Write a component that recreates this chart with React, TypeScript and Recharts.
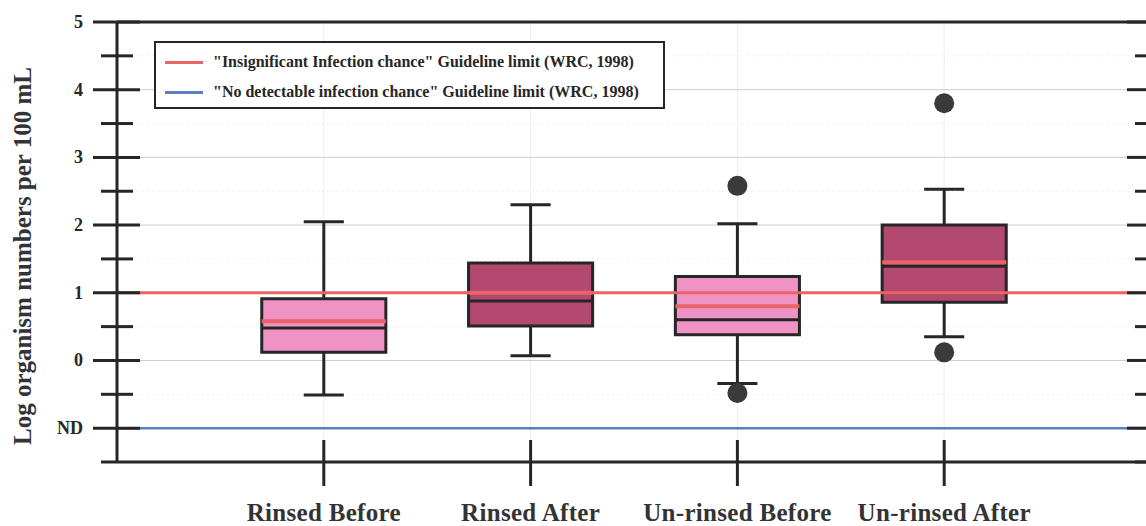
import {
  ComposedChart,
  XAxis,
  YAxis,
  CartesianGrid,
  ReferenceArea,
  ReferenceLine,
  Scatter,
  Legend,
} from "recharts";

const categories = ["Rinsed Before", "Rinsed After", "Un-rinsed Before", "Un-rinsed After"];
const positions = [1, 2, 3, 4];
const whiskerLow = [-0.51, 0.07, -0.34, 0.35];
const q1 = [0.12, 0.51, 0.38, 0.86];
const median = [0.48, 0.88, 0.6, 1.39];
const mean = [0.58, 1.0, 0.8, 1.45];
const q3 = [0.91, 1.44, 1.24, 2.0];
const whiskerHigh = [2.05, 2.3, 2.02, 2.53];
const outlierPos = [3, 3, 4, 4];
const outlierValues = [2.58, -0.48, 3.8, 0.12];

const insignificantLimit = 1;
const notDetectableLimit = -1;

const yTicks = [-1.5, -1, -0.5, 0, 0.5, 1, 1.5, 2, 2.5, 3, 3.5, 4, 4.5, 5];
const yTickLabels: Record<string, string> = { "-1": "ND", "0": "0", "1": "1", "2": "2", "3": "3", "4": "4", "5": "5" };
const legendItems = [
  { label: "\"Insignificant Infection chance\" Guideline limit (WRC, 1998)", color: "#E86466" },
  { label: "\"No detectable infection chance\" Guideline limit (WRC, 1998)", color: "#5B7EC2" },
];

const boxFills = ["#EF93C4", "#B4496F", "#EF93C4", "#B4496F"];
const FONT = "'Liberation Serif', 'Times New Roman', serif";
const INK = "#262626";
const BOX_HALF = 0.3;
const CAP_HALF = 0.097;

const outliers = outlierPos.map((x, i) => ({ x, y: outlierValues[i] }));

const LeftTick = (props: any) => {
  const { x, y, payload } = props;
  const v = payload.value;
  const major = Number.isInteger(v);
  const label = yTickLabels[String(v)];
  return (
    <g>
      <line x1={major ? x - 24 : x - 16} x2={v === -1.5 ? x : major ? x + 23 : x + 16} y1={y} y2={y} stroke={INK} strokeWidth={3} />
      {label && (
        <text x={x - 34} y={y} dy={6} textAnchor="end" fontFamily={FONT} fontWeight="bold" fontSize={18} fill={INK}>
          {label}
        </text>
      )}
    </g>
  );
};

const RightTick = (props: any) => {
  const { x, y, payload } = props;
  const major = Number.isInteger(payload.value);
  return <line x1={major ? x - 24 : x - 16} x2={x} y1={y} y2={y} stroke={INK} strokeWidth={3} />;
};

const BottomTick = (props: any) => {
  const { x, y, payload } = props;
  const label = categories[positions.indexOf(payload.value)];
  return (
    <g>
      <line x1={x} x2={x} y1={y - 22} y2={y + 24} stroke={INK} strokeWidth={3} />
      <text x={x} y={y + 59} textAnchor="middle" fontFamily={FONT} fontWeight="bold" fontSize={25} fill="#333" letterSpacing={0.3}>
        {label}
      </text>
    </g>
  );
};

const TopTick = (props: any) => {
  const { x, y } = props;
  return <line x1={x} x2={x} y1={y} y2={y + 21} stroke={INK} strokeWidth={3} />;
};

const LegendBox = () => (
  <div
    style={{
      border: `2px solid ${INK}`,
      background: "#fff",
      width: 507,
      height: 62,
      boxSizing: "content-box",
      fontFamily: FONT,
      fontWeight: "bold",
      fontSize: 16,
      color: INK,
      paddingTop: 2,
    }}
  >
    {legendItems.map((it) => (
      <div key={it.label} style={{ display: "flex", alignItems: "center", height: 26, marginTop: 4 }}>
        <div style={{ width: 38, height: 3, background: it.color, marginLeft: 9, marginRight: 10 }} />
        <span style={{ whiteSpace: "nowrap" }}>{it.label}</span>
      </div>
    ))}
  </div>
);

const OutlierDot = (props: any) => {
  const { cx, cy } = props;
  return <circle cx={cx} cy={cy} r={10} fill="#3a3a3a" />;
};

export default function App() {
  return (
    <div style={{ position: "absolute", left: 0, top: 0, width: 1146, height: 526, overflow: "hidden", background: "#fff" }}>
      <ComposedChart width={1160} height={526} margin={{ top: 0, right: 0, bottom: 0, left: 0 }}>
        <CartesianGrid horizontalValues={[-0.5, 0.5, 1.5, 2.5, 3.5, 4.5]} vertical={false} stroke="#efefef" strokeDasharray="2 3" />
        <CartesianGrid horizontal={false} verticalValues={positions} stroke="#eeeeee" />
        <CartesianGrid horizontalValues={[0, 2, 3, 4]} vertical={false} stroke="#cccccc" />
        <XAxis
          type="number"
          dataKey="x"
          domain={[0, 5]}
          ticks={positions}
          interval={0}
          height={64}
          tickSize={0}
          tickMargin={0}
          tick={<BottomTick />}
          axisLine={{ stroke: INK, strokeWidth: 3 }}
          tickLine={false}
          allowDataOverflow
        />
        <XAxis
          xAxisId="top"
          orientation="top"
          type="number"
          domain={[0, 5]}
          ticks={positions}
          interval={0}
          height={22}
          tickSize={0}
          tickMargin={0}
          tick={<TopTick />}
          axisLine={{ stroke: INK, strokeWidth: 3 }}
          tickLine={false}
          allowDataOverflow
        />
        <YAxis
          type="number"
          dataKey="y"
          domain={[-1.5, 5]}
          ticks={yTicks}
          interval={0}
          width={117}
          tickSize={0}
          tickMargin={0}
          tick={<LeftTick />}
          axisLine={{ stroke: INK, strokeWidth: 3 }}
          tickLine={false}
          allowDataOverflow
          label={{
            content: () => (
              <text
                x={31}
                y={256}
                transform="rotate(-90 31 256)"
                textAnchor="middle"
                fontFamily={FONT}
                fontWeight="bold"
                fontSize={25}
                fill="#333"
              >
                Log organism numbers per 100 mL
              </text>
            ),
          }}
        />
        <YAxis
          yAxisId="right"
          orientation="right"
          type="number"
          domain={[-1.5, 5]}
          ticks={yTicks}
          interval={0}
          width={9}
          tickSize={0}
          tickMargin={0}
          tick={<RightTick />}
          axisLine={{ stroke: INK, strokeWidth: 3 }}
          tickLine={false}
          allowDataOverflow
        />

        {positions.map((p, i) => (
          <ReferenceArea
            key={`box-${i}`}
            x1={p - BOX_HALF}
            x2={p + BOX_HALF}
            y1={q1[i]}
            y2={q3[i]}
            fill={boxFills[i]}
            fillOpacity={1}
            stroke={INK}
            strokeWidth={3}
          />
        ))}
        {positions.map((p, i) => (
          <ReferenceLine key={`wl-${i}`} segment={[{ x: p, y: whiskerLow[i] }, { x: p, y: q1[i] }]} stroke={INK} strokeWidth={3} />
        ))}
        {positions.map((p, i) => (
          <ReferenceLine key={`wh-${i}`} segment={[{ x: p, y: q3[i] }, { x: p, y: whiskerHigh[i] }]} stroke={INK} strokeWidth={3} />
        ))}
        {positions.map((p, i) => (
          <ReferenceLine key={`cl-${i}`} segment={[{ x: p - CAP_HALF, y: whiskerLow[i] }, { x: p + CAP_HALF, y: whiskerLow[i] }]} stroke={INK} strokeWidth={3} />
        ))}
        {positions.map((p, i) => (
          <ReferenceLine key={`ch-${i}`} segment={[{ x: p - CAP_HALF, y: whiskerHigh[i] }, { x: p + CAP_HALF, y: whiskerHigh[i] }]} stroke={INK} strokeWidth={3} />
        ))}
        {positions.map((p, i) => (
          <ReferenceLine key={`md-${i}`} segment={[{ x: p - BOX_HALF, y: median[i] }, { x: p + BOX_HALF, y: median[i] }]} stroke={INK} strokeWidth={3} />
        ))}
        {positions.map((p, i) => (
          <ReferenceLine key={`mn-${i}`} segment={[{ x: p - BOX_HALF, y: mean[i] }, { x: p + BOX_HALF, y: mean[i] }]} stroke="#E8646A" strokeWidth={4} />
        ))}

        <ReferenceLine y={insignificantLimit} stroke={legendItems[0].color} strokeWidth={3} />
        <ReferenceLine y={notDetectableLimit} stroke={legendItems[1].color} strokeWidth={2.5} />

        <Scatter data={outliers} dataKey="y" shape={<OutlierDot />} isAnimationActive={false} legendType="none" />

        <Legend
          layout="vertical"
          align="center"
          verticalAlign="middle"
          content={() => <LegendBox />}
          wrapperStyle={{ top: 41, left: 154, width: 511, height: 66 }}
        />
      </ComposedChart>
    </div>
  );
}
